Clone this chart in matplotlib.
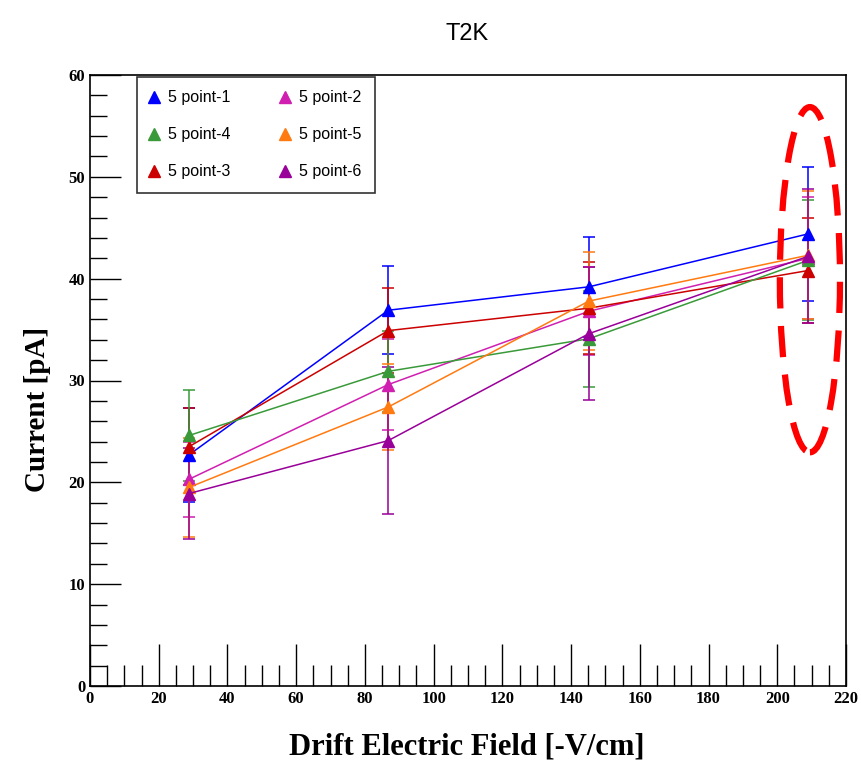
import matplotlib
matplotlib.use("Agg")
import matplotlib.pyplot as plt
from matplotlib.patches import Ellipse
from matplotlib.lines import Line2D
from matplotlib.ticker import MultipleLocator

x_vals = [28.8, 86.8, 145.2, 209.0]

labels = ["5 point-1", "5 point-2", "5 point-3", "5 point-4", "5 point-5", "5 point-6"]
colors = ["#0000ff", "#d01fb0", "#cc0000", "#3a9a3a", "#ff7a10", "#990099"]

y_p1 = [22.7, 36.9, 39.2, 44.4]
e_p1 = [4.6, 4.3, 4.9, 6.6]
y_p2 = [20.3, 29.6, 36.8, 42.0]
e_p2 = [3.7, 4.5, 4.3, 6.0]
y_p3 = [23.5, 34.9, 37.1, 40.8]
e_p3 = [3.8, 4.2, 4.5, 5.2]
y_p4 = [24.6, 30.9, 34.1, 41.8]
e_p4 = [4.5, 4.0, 4.7, 5.9]
y_p5 = [19.5, 27.4, 37.8, 42.3]
e_p5 = [4.9, 4.2, 4.8, 6.3]
y_p6 = [18.9, 24.1, 34.6, 42.2]
e_p6 = [4.5, 7.2, 6.5, 6.6]

ys = [y_p1, y_p2, y_p3, y_p4, y_p5, y_p6]
es = [e_p1, e_p2, e_p3, e_p4, e_p5, e_p6]

fig = plt.figure(figsize=(8.62, 7.61), dpi=100)
ax = fig.add_axes([90/862, 1-686/761, 756/862, 611/761])

handles = {}
for lab, col, y, e in zip(labels, colors, ys, es):
    ax.errorbar(x_vals, y, yerr=e, color=col, marker="^", markersize=9,
                linewidth=1.1, elinewidth=1.1, capsize=4, capthick=1.1)
    handles[lab] = Line2D([], [], color=col, marker="^", markersize=9,
                          linestyle="none")

ell = Ellipse((209.5, 39.9), 17.5, 33.9, fill=False, edgecolor="#ff0000",
              linewidth=4.5, linestyle=(0, (5, 2.8)), zorder=5)
ax.add_patch(ell)

ax.set_xlim(0, 220)
ax.set_ylim(0, 60)
ax.xaxis.set_major_locator(MultipleLocator(20))
ax.xaxis.set_minor_locator(MultipleLocator(5))
ax.yaxis.set_major_locator(MultipleLocator(10))
ax.yaxis.set_minor_locator(MultipleLocator(2))
ax.tick_params(which="both", direction="in", top=False, right=False, width=1)
ax.tick_params(axis="x", which="major", length=30)
ax.tick_params(axis="x", which="minor", length=15)
ax.tick_params(axis="y", which="major", length=22)
ax.tick_params(axis="y", which="minor", length=12)
for lbl in ax.get_xticklabels() + ax.get_yticklabels():
    lbl.set_fontfamily("Liberation Serif")
    lbl.set_fontweight("bold")
    lbl.set_fontsize(12)
for s in ax.spines.values():
    s.set_linewidth(1.2)

ax.set_xlabel("Drift Electric Field [-V/cm]", fontfamily="Liberation Serif",
              fontweight="bold", fontsize=22)
ax.xaxis.set_label_coords(0.499, -0.076)
ax.set_ylabel("Current [pA]", fontfamily="Liberation Serif",
              fontweight="bold", fontsize=21)
ax.yaxis.set_label_coords(-0.051, 0.452)
fig.text(0.542, 0.955, "T2K", ha="center", va="center", fontsize=17,
         fontfamily="Liberation Sans")

order = ["5 point-1", "5 point-4", "5 point-3", "5 point-2", "5 point-5", "5 point-6"]
leg = ax.legend([handles[o] for o in order], order, ncol=2,
                loc="upper left", bbox_to_anchor=(0.062, 0.809, 0.315, 0.188),
                mode="expand", borderaxespad=0.0,
                frameon=True, fancybox=False, edgecolor="black",
                handlelength=0.5, handletextpad=0.6,
                columnspacing=2.0, labelspacing=1.38, borderpad=0.85,
                prop={"family": "Liberation Sans", "size": 11.5})
leg.get_frame().set_linewidth(1.2)

fig.savefig("out.png", dpi=100)
